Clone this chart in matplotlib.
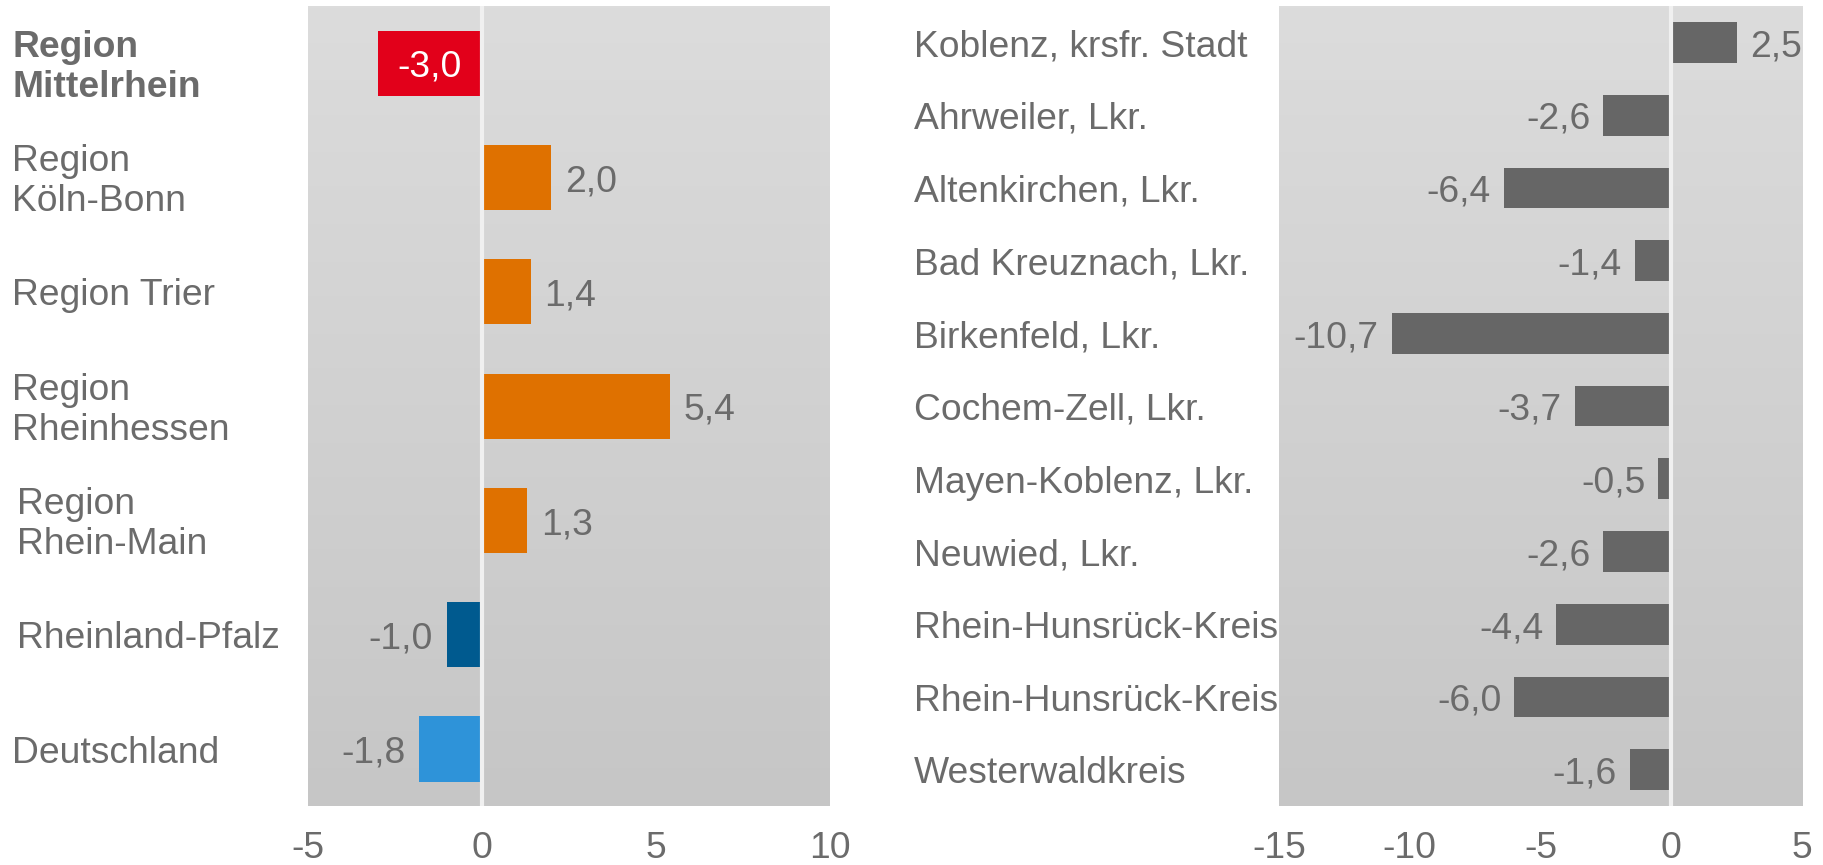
import numpy as np
import matplotlib
matplotlib.use("Agg")
import matplotlib.pyplot as plt
from matplotlib.colors import LinearSegmentedColormap
from matplotlib.transforms import blended_transform_factory, offset_copy

plt.rcParams['font.family'] = ['Liberation Sans', 'DejaVu Sans']

# ---- data ----
left_labels = ["Region\nMittelrhein", "Region\nKöln-Bonn", "Region Trier", "Region\nRheinhessen",
               "Region\nRhein-Main", "Rheinland-Pfalz", "Deutschland"]
left_values = [-3.0, 2.0, 1.4, 5.4, 1.3, -1.0, -1.8]
left_colors = ["#e2001a", "#df7100", "#df7100", "#df7100", "#df7100", "#005a8f", "#2e93d9"]
left_ticks = [-5, 0, 5, 10]

right_labels = ["Koblenz, krsfr. Stadt", "Ahrweiler, Lkr.", "Altenkirchen, Lkr.", "Bad Kreuznach, Lkr.",
                "Birkenfeld, Lkr.", "Cochem-Zell, Lkr.", "Mayen-Koblenz, Lkr.", "Neuwied, Lkr.",
                "Rhein-Hunsrück-Kreis", "Rhein-Hunsrück-Kreis", "Westerwaldkreis"]
right_values = [2.5, -2.6, -6.4, -1.4, -10.7, -3.7, -0.5, -2.6, -4.4, -6.0, -1.6]
right_ticks = [-15, -10, -5, 0, 5]

TXT = "#6b6b6b"
FS = 26.8
fmt = lambda v: f"{v:.1f}".replace(".", ",")

fig = plt.figure(figsize=(18.23, 8.65), dpi=100)
axL = fig.add_axes([0.169, 0.068, 0.286, 0.925])
axR = fig.add_axes([0.7016, 0.068, 0.287, 0.925])

cmap = LinearSegmentedColormap.from_list("bg", ["#dcdcdc", "#c6c6c6"])

def setup(ax, ticks, n):
    ax.imshow(np.linspace(0, 1, 256)[:, None], cmap=cmap, aspect='auto',
              extent=[0, 1, 0, 1], transform=ax.transAxes, zorder=0)
    ax.set_xlim(ticks[0], ticks[-1])
    ax.set_ylim(n - 0.5, -0.5)
    ax.axvline(0, color="#f0f0f0", lw=3, zorder=2.5)
    for s in ax.spines.values():
        s.set_visible(False)
    ax.set_yticks([])
    ax.set_xticks(ticks)
    ax.set_xticklabels([str(t) for t in ticks])
    ax.tick_params(axis='x', length=0, pad=18, labelsize=FS, labelcolor=TXT)

def shifted(tr):
    return offset_copy(tr, fig=fig, x=0, y=-3, units='points')

# ---- left chart ----
nL = len(left_values)
setup(axL, left_ticks, nL)
yL = np.arange(nL)
axL.barh(yL, left_values, height=0.57, color=left_colors, zorder=2)
tdL = shifted(axL.transData)
for i, v in enumerate(left_values):
    if i == 0:
        axL.text(v / 2, i, fmt(v), color="white", fontsize=FS, ha="center", va="center", zorder=3, transform=tdL)
    elif v >= 0:
        axL.text(v + 0.4, i, fmt(v), color=TXT, fontsize=FS, ha="left", va="center", zorder=3, transform=tdL)
    else:
        axL.text(v - 0.4, i, fmt(v), color=TXT, fontsize=FS, ha="right", va="center", zorder=3, transform=tdL)
trL = shifted(blended_transform_factory(fig.transFigure, axL.transData))
xoff = [0.0068, 0.0068, 0.0068, 0.0068, 0.0095, 0.0095, 0.0068]
for i, lab in enumerate(left_labels):
    axL.text(xoff[i], i, lab, transform=trL, fontsize=FS, color=TXT, ha="left", va="center",
             linespacing=1.18, fontweight="bold" if i == 0 else "normal")

# ---- right chart ----
nR = len(right_values)
setup(axR, right_ticks, nR)
yR = np.arange(nR)
axR.barh(yR, right_values, height=0.56, color="#666666", zorder=2)
tdR = shifted(axR.transData)
for i, v in enumerate(right_values):
    if v >= 0:
        axR.text(v + 0.5, i, fmt(v), color=TXT, fontsize=FS, ha="left", va="center", zorder=3,
                 clip_on=False, transform=tdR)
    else:
        axR.text(v - 0.5, i, fmt(v), color=TXT, fontsize=FS, ha="right", va="center", zorder=3, transform=tdR)
trR = shifted(blended_transform_factory(fig.transFigure, axR.transData))
for i, lab in enumerate(right_labels):
    axR.text(0.5015, i, lab, transform=trR, fontsize=FS, color=TXT, ha="left", va="center")

fig.savefig("out.png", dpi=100)
